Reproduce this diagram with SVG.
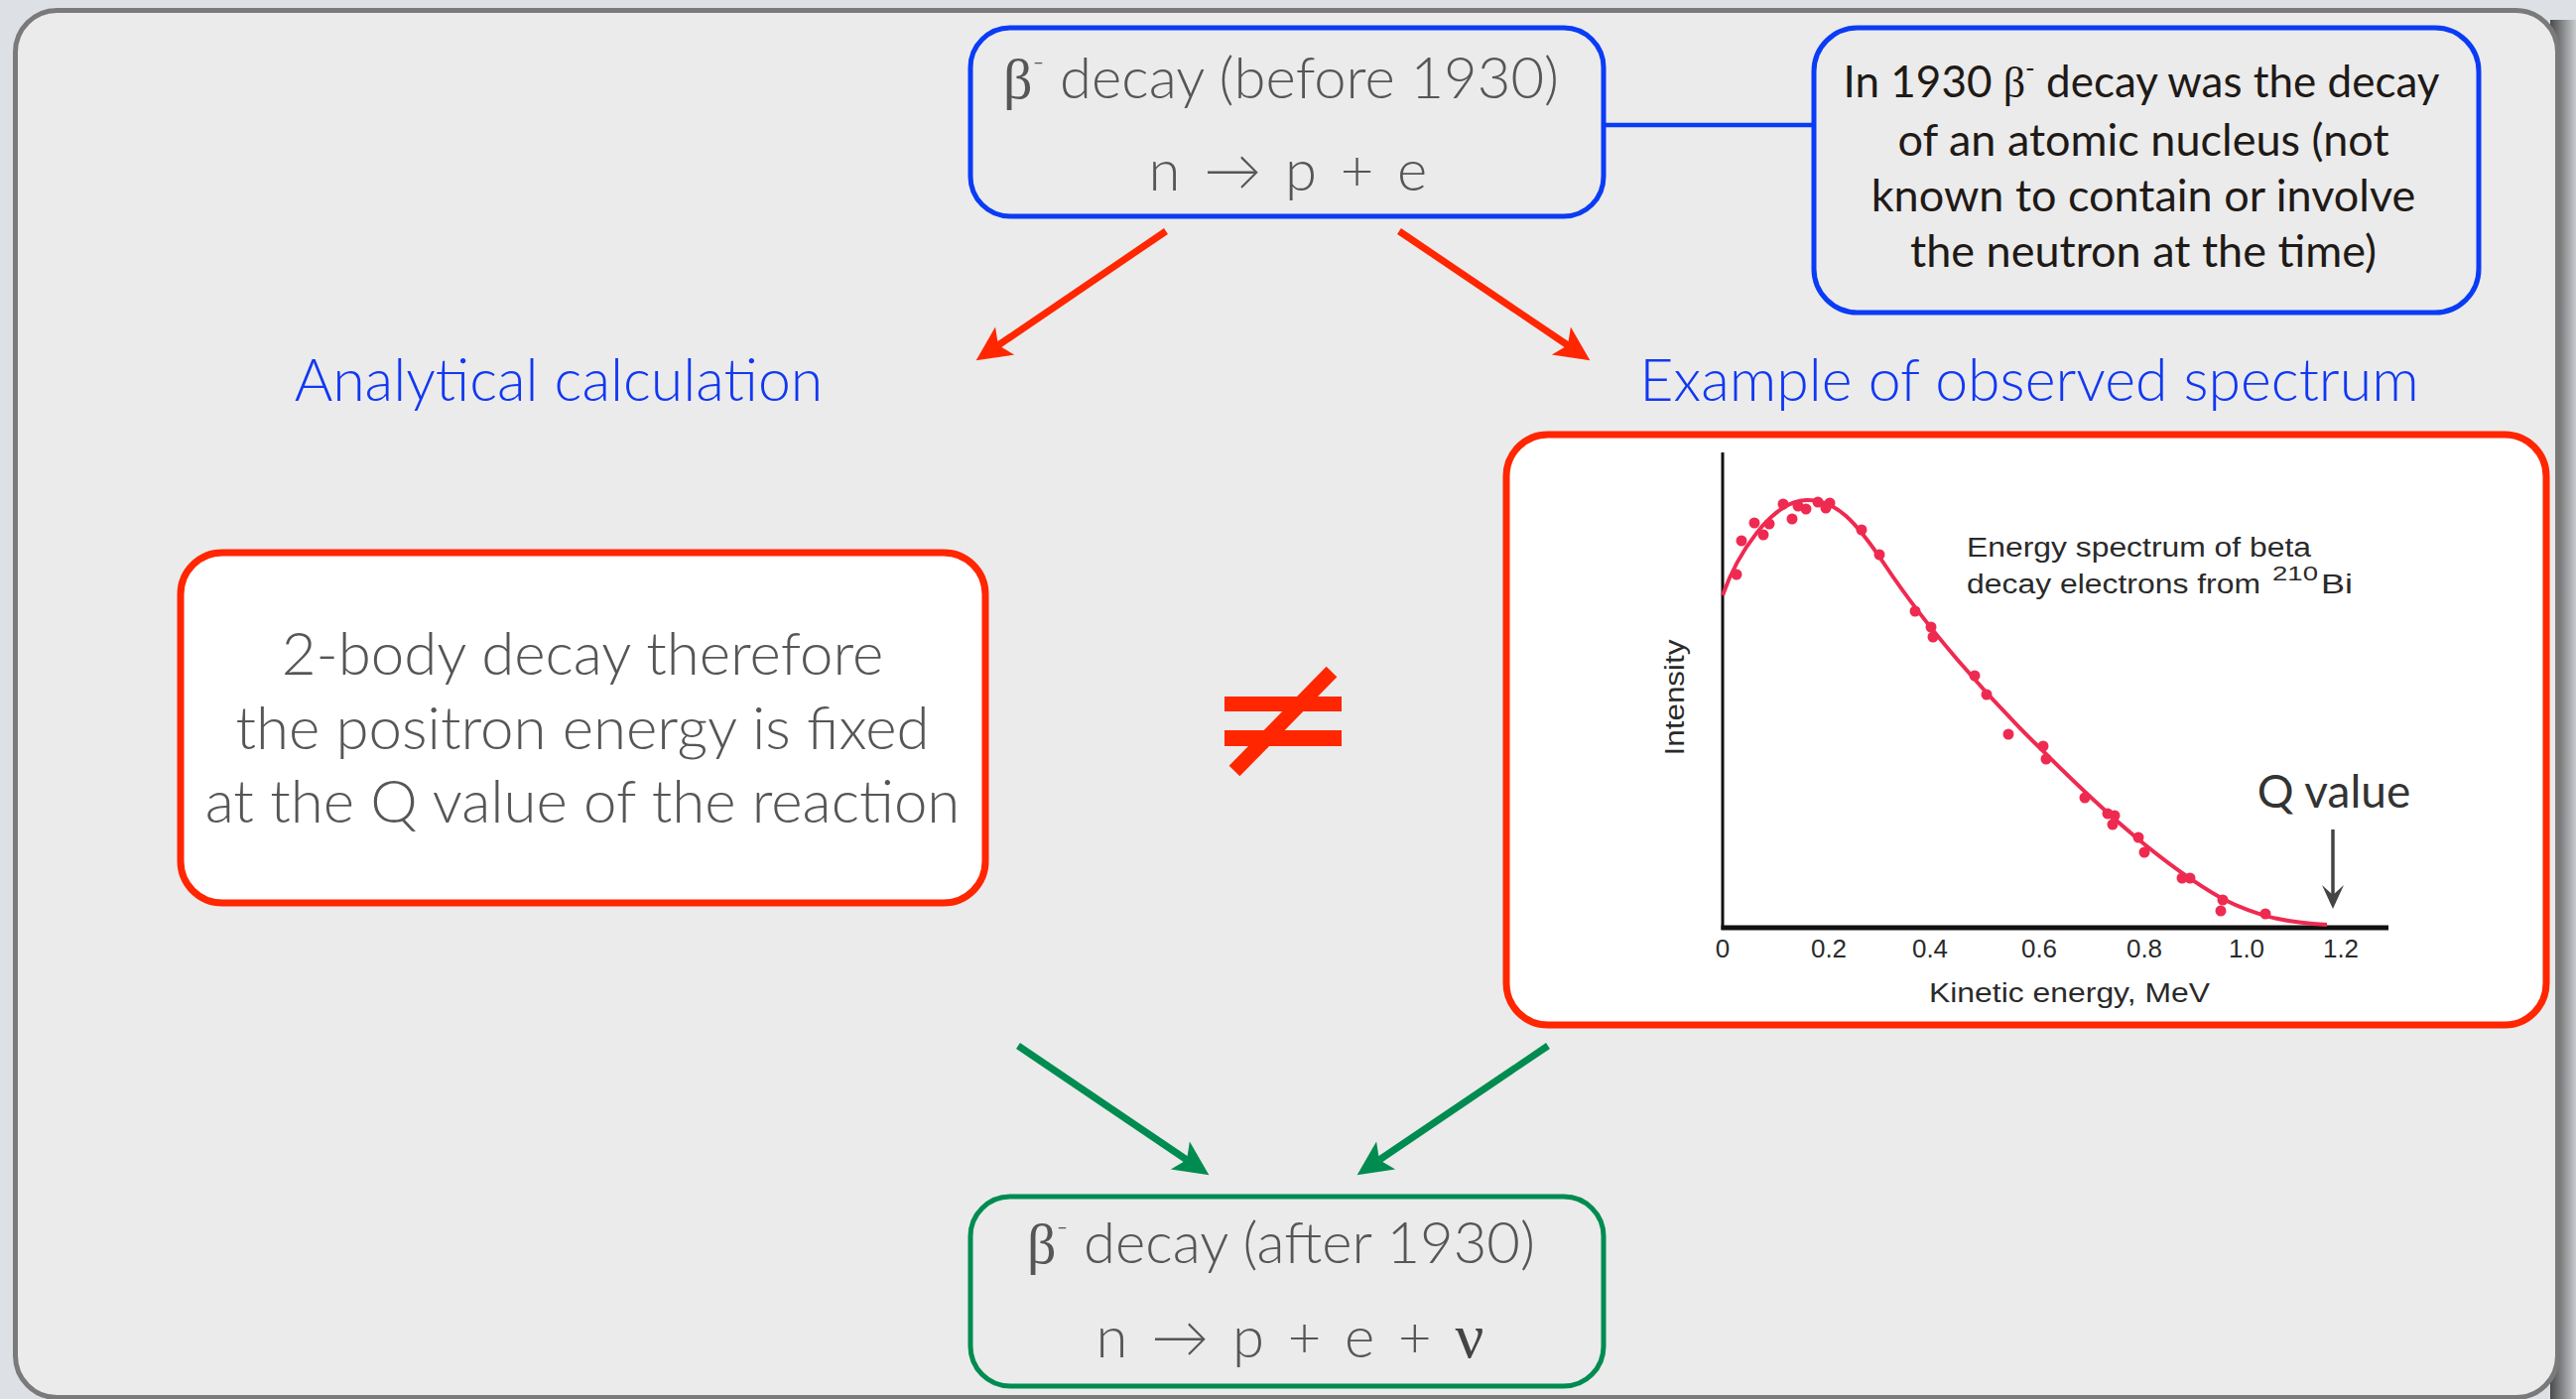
<svg xmlns="http://www.w3.org/2000/svg" width="2596" height="1410" viewBox="0 0 2596 1410">
<defs>
<style>
.gray{font-family:Lato,"Open Sans","DejaVu Sans",sans-serif;font-weight:300;fill:#565656}
.blk{font-family:Lato,"Open Sans","DejaVu Sans",sans-serif;font-weight:400;fill:#1f1a17}
.lbl{font-family:Lato,"Open Sans","DejaVu Sans",sans-serif;font-weight:300;fill:#1238f2}
.chart{font-family:"Liberation Sans",Arial,sans-serif;fill:#2a2a2a}
.greek{font-family:"Liberation Serif","DejaVu Serif",serif;font-weight:400}
.red{fill:none;stroke:#ff2600;stroke-width:7}
.grn{fill:none;stroke:#008c50;stroke-width:7}
.dot{fill:#ef2a50}
</style>
<linearGradient id="shadowR" x1="0" y1="0" x2="1" y2="0">
<stop offset="0" stop-color="#4a4a4a"/>
<stop offset="1" stop-color="#c8cbce"/>
</linearGradient>
<marker id="ahR" markerUnits="userSpaceOnUse" viewBox="-12 -20 44 40" markerWidth="44" markerHeight="40" refX="0" refY="0" orient="auto" overflow="visible">
<path d="M27,0 L-8,-17 L0,0 L-8,17 Z" fill="#ff2600"/>
</marker>
<marker id="ahG" markerUnits="userSpaceOnUse" viewBox="-12 -20 44 40" markerWidth="44" markerHeight="40" refX="0" refY="0" orient="auto" overflow="visible">
<path d="M27,0 L-8,-17 L0,0 L-8,17 Z" fill="#008c50"/>
</marker>
<marker id="ahK" markerUnits="userSpaceOnUse" viewBox="-12 -14 36 28" markerWidth="36" markerHeight="28" refX="0" refY="0" orient="auto" overflow="visible">
<path d="M14,0 L-10,-11 L0,0 L-10,11 Z" fill="#444"/>
</marker>
</defs>

<rect x="0" y="0" width="2596" height="1410" fill="#dde0e4"/>
<rect x="2570" y="20" width="26" height="1390" fill="url(#shadowR)"/>
<rect x="15.5" y="10.5" width="2562" height="1398" rx="42" fill="#ebebeb" stroke="#7a7a7a" stroke-width="5"/>

<g id="connectors">
<line x1="1616" y1="126" x2="1828" y2="126" stroke="#0a3cf5" stroke-width="4.5"/>
<line class="red" x1="1175" y1="233" x2="1006" y2="348" marker-end="url(#ahR)"/>
<line class="red" x1="1410" y1="233" x2="1580" y2="348" marker-end="url(#ahR)"/>
<line class="grn" x1="1026" y1="1054" x2="1196" y2="1169" marker-end="url(#ahG)"/>
<line class="grn" x1="1560" y1="1054" x2="1390" y2="1169" marker-end="url(#ahG)"/>
</g>

<g id="before">
<rect x="978" y="28" width="638" height="190" rx="40" fill="none" stroke="#0a3cf5" stroke-width="5"/>
<text class="gray" x="1291" y="99" font-size="58" text-anchor="middle"><tspan class="greek">β</tspan><tspan font-size="32" dy="-26">-</tspan><tspan dy="26"> decay (before 1930)</tspan></text>
<text class="gray" x="1298" y="192" font-size="58" text-anchor="middle" word-spacing="8">n → p + e</text>
</g>

<g id="note">
<rect x="1828" y="28" width="670" height="287" rx="44" fill="none" stroke="#0a3cf5" stroke-width="5"/>
<g class="blk" font-size="45" text-anchor="middle">
<text x="2158" y="98" font-size="44">In 1930 <tspan class="greek">β</tspan><tspan font-size="26" dy="-20">-</tspan><tspan dy="20"> decay was the decay</tspan></text>
<text x="2160" y="157">of an atomic nucleus (not</text>
<text x="2160" y="213">known to contain or involve</text>
<text x="2160" y="269">the neutron at the time)</text>
</g>
</g>

<g id="label-analytical">
<text class="lbl" x="563" y="404" font-size="59" text-anchor="middle">Analytical calculation</text>
</g>
<g id="label-observed">
<text class="lbl" x="2045" y="404" font-size="59" text-anchor="middle">Example of observed spectrum</text>
</g>

<g id="analytical">
<rect x="182" y="557" width="811" height="353" rx="42" fill="#ffffff" stroke="#ff2600" stroke-width="7"/>
<g class="gray" font-size="60" text-anchor="middle">
<text x="587" y="680">2-body decay therefore</text>
<text x="587" y="755">the positron energy is fixed</text>
<text x="587" y="829">at the Q value of the reaction</text>
</g>
</g>

<g id="notequal">
<rect x="1234" y="702" width="118" height="15" fill="#ff2600"/>
<rect x="1234" y="736" width="118" height="16" fill="#ff2600"/>
<line x1="1342" y1="677" x2="1244" y2="777" stroke="#ff2600" stroke-width="15"/>
</g>

<g id="spectrum">
<rect x="1518" y="438" width="1048" height="595" rx="42" fill="#ffffff" stroke="#ff2600" stroke-width="7"/>
<line x1="1736" y1="456" x2="1736" y2="937" stroke="#111" stroke-width="3"/>
<line x1="1734.5" y1="935" x2="2407" y2="935" stroke="#111" stroke-width="5"/>
<path d="M1736,600 C1750,560 1785,505 1820,504 C1850,503 1870,525 1900,570 C1940,630 2000,700 2060,758 C2120,818 2180,872 2240,906 C2280,926 2310,930 2345,932" fill="none" stroke="#ef2a50" stroke-width="4"/>
<g class="dot">
<circle cx="1750" cy="579" r="5.5"/><circle cx="1755" cy="545" r="5.5"/><circle cx="1768" cy="527" r="5.5"/>
<circle cx="1777" cy="539" r="5.5"/><circle cx="1783" cy="528" r="5.5"/><circle cx="1797" cy="508" r="5.5"/>
<circle cx="1806" cy="523" r="5.5"/><circle cx="1812" cy="510" r="5.5"/><circle cx="1820" cy="513" r="5.5"/>
<circle cx="1832" cy="506" r="5.5"/><circle cx="1840" cy="512" r="5.5"/><circle cx="1844" cy="507" r="5.5"/>
<circle cx="1876" cy="534" r="5.5"/><circle cx="1894" cy="559" r="5.5"/><circle cx="1930" cy="616" r="5.5"/>
<circle cx="1946" cy="632" r="5.5"/><circle cx="1948" cy="642" r="5.5"/><circle cx="1990" cy="681" r="5.5"/>
<circle cx="2002" cy="700" r="5.5"/><circle cx="2024" cy="740" r="5.5"/><circle cx="2059" cy="752" r="5.5"/>
<circle cx="2062" cy="765" r="5.5"/><circle cx="2101" cy="804" r="5.5"/><circle cx="2124" cy="820" r="5.5"/>
<circle cx="2131" cy="822" r="5.5"/><circle cx="2129" cy="831" r="5.5"/><circle cx="2155" cy="844" r="5.5"/>
<circle cx="2161" cy="859" r="5.5"/><circle cx="2199" cy="885" r="5.5"/><circle cx="2207" cy="885" r="5.5"/>
<circle cx="2240" cy="907" r="5.5"/><circle cx="2238" cy="918" r="5.5"/><circle cx="2283" cy="921" r="5.5"/>
</g>
<g class="chart" font-size="27">
<text x="1982" y="561" textLength="347" lengthAdjust="spacingAndGlyphs">Energy spectrum of beta</text>
<text x="1982" y="598" textLength="296" lengthAdjust="spacingAndGlyphs">decay electrons from</text>
<text x="2290" y="585" font-size="20" textLength="46" lengthAdjust="spacingAndGlyphs">210</text>
<text x="2339" y="598" textLength="32" lengthAdjust="spacingAndGlyphs">Bi</text>
<text transform="translate(1697,703) rotate(-90)" text-anchor="middle" textLength="117" lengthAdjust="spacingAndGlyphs">Intensity</text>
<text x="1944" y="1010" textLength="283" lengthAdjust="spacingAndGlyphs">Kinetic energy, MeV</text>
<g text-anchor="middle" font-size="26">
<text x="1736" y="965">0</text>
<text x="1843" y="965">0.2</text>
<text x="1945" y="965">0.4</text>
<text x="2055" y="965">0.6</text>
<text x="2161" y="965">0.8</text>
<text x="2264" y="965">1.0</text>
<text x="2359" y="965">1.2</text>
</g>
</g>
<text class="blk" x="2352" y="814" font-size="46" text-anchor="middle" style="fill:#333">Q value</text>
<line x1="2351" y1="836" x2="2351" y2="902" stroke="#444" stroke-width="3.5" marker-end="url(#ahK)"/>
</g>

<g id="after">
<rect x="978" y="1206" width="638" height="191" rx="40" fill="none" stroke="#008c50" stroke-width="5"/>
<text class="gray" x="1291" y="1273" font-size="58" text-anchor="middle"><tspan class="greek">β</tspan><tspan font-size="32" dy="-26">-</tspan><tspan dy="26"> decay (after 1930)</tspan></text>
<text class="gray" x="1300" y="1368" font-size="58" text-anchor="middle" word-spacing="8">n → p + e + <tspan class="greek" font-size="64" font-weight="700" style="fill:#444">ν</tspan></text>
</g>
</svg>
